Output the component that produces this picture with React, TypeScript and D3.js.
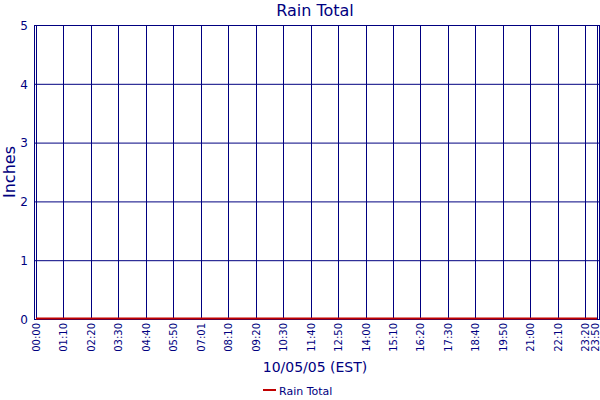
import React from 'react';
import * as d3 from 'd3';

// readings at each labelled time (inches)
const times = ['00:00', '01:10', '02:20', '03:30', '04:40', '05:50', '07:01', '08:10', '09:20', '10:30', '11:40',
    '12:50', '14:00', '15:10', '16:20', '17:30', '18:40', '19:50', '21:00', '22:10', '23:20', '23:50'];
const rainTotal = [0, 0, 0, 0, 0, 0, 0, 0, 0, 0, 0, 0, 0, 0, 0, 0, 0, 0, 0, 0, 0, 0];
const yTicks = [0, 1, 2, 3, 4, 5];

const navy = '#000080';
const red = '#c00000';
const font = '"DejaVu Sans", Verdana, sans-serif';

const toMinutes = (t: string) => {
    const [h, m] = t.split(':').map(Number);
    return h * 60 + m;
};

const App: React.FC = () => {
    const left = 34, right = 599, top = 25, bottom = 319;

    const x = d3.scaleLinear()
        .domain([0, toMinutes(times[times.length - 1])])
        .range([36, 597]);

    const y = d3.scaleLinear()
        .domain([0, 5])
        .range([bottom, top]);

    const data = times.map((t, i) => ({ m: toMinutes(t), v: rainTotal[i] }));

    const line = d3.line<{ m: number; v: number }>()
        .x(d => x(d.m))
        .y(d => y(d.v));

    const px = (t: string) => Math.round(x(toMinutes(t))) + 0.5;

    return (
        <svg width={600} height={400} style={{ position: 'absolute', left: 0, top: 0, background: '#fff' }}
            fontFamily={font}>
            <text x={315} y={16} textAnchor="middle" fontSize={16} fill={navy}>Rain Total</text>

            {/* grid */}
            {yTicks.map(t => (
                <line key={'h' + t} x1={left} x2={right} y1={y(t) + 0.5} y2={y(t) + 0.5} stroke={navy} strokeWidth={1} />
            ))}
            {times.map(t => (
                <line key={'v' + t} x1={px(t)} x2={px(t)} y1={top} y2={bottom} stroke={navy} strokeWidth={1} />
            ))}
            <rect x={left + 0.5} y={top + 0.5} width={right - left} height={bottom - top}
                fill="none" stroke={navy} strokeWidth={1} />

            {/* y axis labels */}
            {yTicks.map(t => (
                <text key={'yl' + t} x={28} y={y(t) + 0.5} dy="0.35em" textAnchor="end" fontSize={12} fill={navy}>{t}</text>
            ))}
            <text transform={`translate(15,172) rotate(-90)`} textAnchor="middle" fontSize={16} fill={navy}>Inches</text>

            {/* x axis labels */}
            {times.map(t => (
                <text key={'xl' + t} transform={`translate(${Math.min(px(t), 595)},323) rotate(-90)`}
                    dy="0.35em" textAnchor="end" fontSize={10} fill={navy}>{t}</text>
            ))}
            <text x={315} y={372} textAnchor="middle" fontSize={14} fill={navy}>10/05/05 (EST)</text>

            {/* series */}
            <path d={line(data) ?? ''} fill="none" stroke={red} strokeWidth={2} transform="translate(0,-0.5)" />

            {/* legend */}
            <line x1={263} x2={276} y1={390} y2={390} stroke={red} strokeWidth={2} />
            <text x={279} y={395} fontSize={11} fill={navy}>Rain Total</text>
        </svg>
    );
};

export default App;
